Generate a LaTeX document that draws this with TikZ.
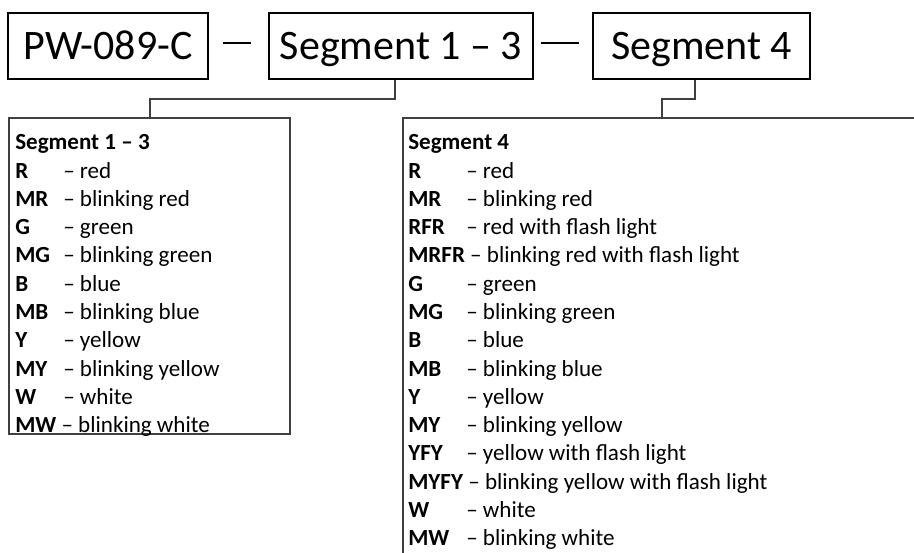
\documentclass[tikz,border=0pt]{standalone}
\usepackage{fontspec}
\setmainfont{Carlito}
\newcommand{\lrowL}[2]{\makebox[36pt][l]{\textbf{#1}}– #2}
\newcommand{\lrowR}[2]{\makebox[43.5pt][l]{\textbf{#1}}– #2}
\begin{document}
\begin{tikzpicture}[x=0.75pt,y=-0.75pt,
  topbox/.style={draw=black, line width=0.9pt, inner sep=0pt, minimum height=49.5pt,
    text height=24pt, text depth=3.7pt,
    font=\fontsize{31.5}{36}\selectfont},
  listbox/.style={draw=black!75, line width=1pt, inner sep=0pt},
  listtext/.style={anchor=north west, align=left, inner sep=0pt,
    font=\fontsize{17.3}{21.2}\selectfont},
  conn/.style={draw=black!75, line width=0.9pt},
  dashline/.style={draw=black, line width=1.4pt}]
\useasboundingbox (0,0) rectangle (914,553);
\clip (0,0) rectangle (914,553);

% top row
\node[topbox, line width=2.2pt, minimum width=150pt] (pw) at (108,46) {PW-089-C};
\node[topbox, minimum width=198pt] (s13) at (401,46) {Segment 1 – 3};
\node[topbox, minimum width=162.75pt] (s4) at (701.5,46) {Segment 4};

\draw[dashline] ([shift={(14,-3)}]pw.east) -- ([shift={(-17,-3)}]s13.west);
\draw[dashline] ([shift={(7,-3)}]s13.east) -- ([shift={(-13,-3)}]s4.west);

% list boxes
\node[listbox, minimum width=210.75pt, minimum height=237pt] (L) at (149.5,276) {};
\node[listbox, minimum width=450pt, minimum height=375pt] (R) at (703,368) {};

% connectors
\coordinate (k1) at (150,99);
\coordinate (k2) at (662,99);
\draw[conn] ([xshift=-4.5pt]s13.south) |- (k1) -- (k1 |- L.north);
\draw[conn] ([xshift=-4.9pt]s4.south) |- (k2) -- (k2 |- R.north);

% list texts
\node[listtext] (Lt) at (15,134.5) {%
\textbf{Segment 1 – 3}\\
\lrowL{R}{red}\\
\lrowL{MR}{blinking red}\\
\lrowL{G}{green}\\
\lrowL{MG}{blinking green}\\
\lrowL{B}{blue}\\
\lrowL{MB}{blinking blue}\\
\lrowL{Y}{yellow}\\
\lrowL{MY}{blinking yellow}\\
\lrowL{W}{white}\\
\textbf{MW} – blinking white};

\node[listtext] (Rt) at (408,134.5) {%
\textbf{Segment 4}\\
\lrowR{R}{red}\\
\lrowR{MR}{blinking red}\\
\lrowR{RFR}{red with flash light}\\
\textbf{MRFR} – blinking red with flash light\\
\lrowR{G}{green}\\
\lrowR{MG}{blinking green}\\
\lrowR{B}{blue}\\
\lrowR{MB}{blinking blue}\\
\lrowR{Y}{yellow}\\
\lrowR{MY}{blinking yellow}\\
\lrowR{YFY}{yellow with flash light}\\
\textbf{MYFY} – blinking yellow with flash light\\
\lrowR{W}{white}\\
\lrowR{MW}{blinking white}};
\end{tikzpicture}
\end{document}
